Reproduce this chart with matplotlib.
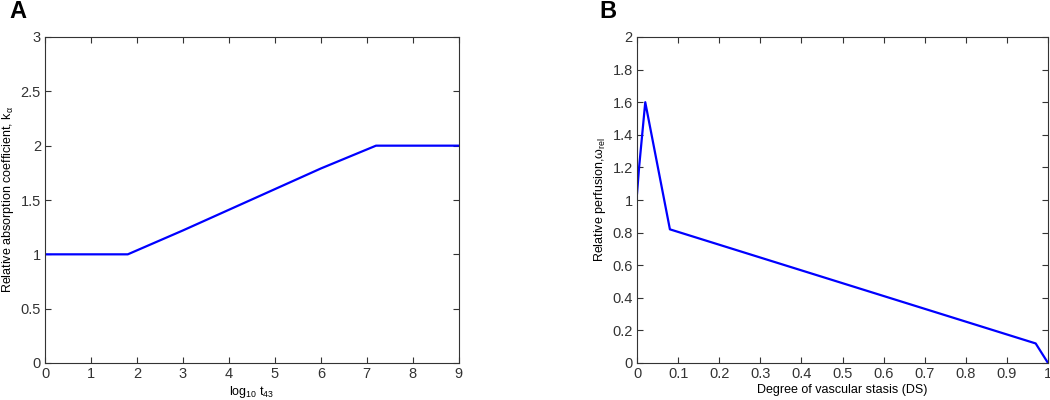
import numpy as np
import matplotlib
matplotlib.use("Agg")
import matplotlib.pyplot as plt

plt.rcParams['font.family'] = ['Liberation Sans', 'DejaVu Sans']
plt.rcParams['mathtext.fontset'] = 'custom'
plt.rcParams['mathtext.rm'] = 'Liberation Sans'
plt.rcParams['mathtext.it'] = 'Liberation Sans'

# panel A: relative absorption coefficient vs log10 t43
log_t43 = [0, 1.8, 3, 4, 5, 6, 7.2, 9]
k_alpha = [1.0, 1.0, 1.22, 1.41, 1.6, 1.79, 2.0, 2.0]

# panel B: relative perfusion vs degree of vascular stasis
ds = [0, 0.005, 0.02, 0.08, 0.97, 1.0]
w_rel = [1.04, 1.2, 1.6, 0.82, 0.12, 0.0]

fig = plt.figure(figsize=(10.5, 4), dpi=100)
ax1 = fig.add_axes([0.0429, 0.0925, 0.394, 0.815])
ax2 = fig.add_axes([0.6067, 0.0925, 0.3914, 0.815])

ax1.plot(log_t43, k_alpha, color='#0000ff', lw=1.6)
ax1.set_xlim(0, 9)
ax1.set_ylim(0, 3)
ax1.set_xticks(np.arange(0, 10, 1))
ax1.set_yticks([0, 0.5, 1, 1.5, 2, 2.5, 3])
ax1.set_yticklabels(['0', '0.5', '1', '1.5', '2', '2.5', '3'])
ax1.set_xlabel(r'log$_{10}$ t$_{43}$', fontsize=9, labelpad=2)
ax1.set_ylabel(r'Relative absorption coefficient, k$_{\alpha}$', fontsize=9, labelpad=3)

ax2.plot(ds, w_rel, color='#0000ff', lw=1.6)
ax2.set_xlim(0, 1)
ax2.set_ylim(0, 2)
ax2.set_xticks(np.round(np.arange(0, 1.01, 0.1), 1))
ax2.set_xticklabels(['0', '0.1', '0.2', '0.3', '0.4', '0.5', '0.6', '0.7', '0.8', '0.9', '1'])
ax2.set_yticks(np.round(np.arange(0, 2.01, 0.2), 1))
ax2.set_yticklabels(['0', '0.2', '0.4', '0.6', '0.8', '1', '1.2', '1.4', '1.6', '1.8', '2'])
ax2.set_xlabel('Degree of vascular stasis (DS)', fontsize=9, labelpad=2)
ax2.set_ylabel(r'Relative perfusion,$\omega_{\rm rel}$', fontsize=9, labelpad=3)

for ax in (ax1, ax2):
    ax.tick_params(direction='in', top=True, right=True, length=4, width=0.8,
                   labelsize=10.5, colors='#333333', pad=3)
    for s in ax.spines.values():
        s.set_color('#333333')
        s.set_linewidth(0.8)

fig.text(0.017, 0.97, 'A', fontsize=17, fontweight='bold', ha='center', va='center')
fig.text(0.579, 0.97, 'B', fontsize=17, fontweight='bold', ha='center', va='center')

fig.savefig('out.png', dpi=100)
